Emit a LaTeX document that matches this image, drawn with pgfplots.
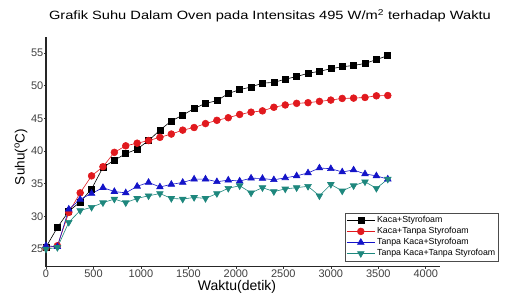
\documentclass[border=0pt]{standalone}
\usepackage{pgfplots}
\pgfplotsset{compat=1.18}
\usepackage{pgfplotstable}
\usepackage{fontspec}
\setmainfont{Liberation Sans}
\newfontfamily\titlefont[FakeStretch=1.22]{Liberation Sans}
\definecolor{cred}{RGB}{225,25,30}
\definecolor{cblue}{RGB}{20,20,200}
\definecolor{cteal}{RGB}{30,135,125}
\pgfplotstableread{
t    a     b     c     d
0    25.3  25.2  25.5  25.0
120  28.3  25.5  25.35 25.25
240  30.8  30.6  31.1  29.1
360  32.2  33.6  32.6  30.9
480  34.2  36.2  33.5  31.4
600  37.5  37.6  34.4  32.1
720  38.6  39.8  33.8  32.65
840  39.6  40.8  33.6  32.1
960  40.3  41.2  34.6  32.75
1080 41.6  41.6  35.2  33.15
1200 43.2  42.1  34.5  33.5
1320 44.6  42.6  34.9  32.75
1440 45.5  43.2  35.2  32.65
1560 46.5  43.6  35.7  32.9
1680 47.3  44.2  35.7  32.75
1800 47.7  44.7  35.3  33.5
1920 48.8  45.1  35.55 34.3
2040 49.4  45.6  35.4  34.7
2160 49.8  45.95 35.85 33.6
2280 50.4  46.15 35.8  34.4
2400 50.5  46.7  35.6  33.8
2520 51.0  47.05 35.9  34.2
2640 51.4  47.3  36.2  34.4
2760 51.9  47.4  36.65 34.6
2880 52.2  47.6  37.4  33.15
3000 52.6  47.8  37.3  34.9
3120 52.9  48.05 36.8  33.9
3240 53.1  48.1  37.1  34.7
3360 53.4  48.2  36.5  35.3
3480 54.0  48.45 36.2  34.3
3600 54.6  48.5  35.7  35.7
}\data
\begin{document}
\begin{tikzpicture}
\useasboundingbox (-46bp,-26.3bp) rectangle (461bp,266.7bp);
\begin{axis}[
  at={(0,0)}, anchor=south west,
  scale only axis, width=394bp, height=230bp,
  xmin=0, xmax=4150, ymin=22.3, ymax=57.5,
  axis x line*=bottom, axis y line*=left,
  axis line style={-, line width=1.1bp, black!85},
  xtick={0,500,...,4000}, ytick={25,30,...,55},
  tick align=outside, major tick length=2bp,
  tick style={black!80, line width=0.6bp},
  /pgf/number format/assume math mode=true,
  /pgf/number format/set thousands separator={},
  ticklabel style={font=\fontsize{11bp}{13bp}\selectfont, text=black!75},
  xticklabel style={inner sep=1bp},
  yticklabel style={inner sep=0.5bp},
  every axis title shift=0pt,
  title={Grafik Suhu Dalam Oven pada Intensitas 495 W/m\textsuperscript{2} terhadap Waktu},
  title style={at={(0.5685,1.0913)}, anchor=center, font=\titlefont\fontsize{12bp}{14bp}\selectfont, inner sep=0pt},
  xlabel={Waktu(detik)},
  xlabel style={at={(axis description cs:0.4848,-0.087)}, anchor=center, font=\fontsize{14bp}{16bp}\selectfont, inner sep=0pt},
  ylabel={Suhu(\textsuperscript{o}C)},
  ylabel style={at={(axis description cs:-0.0635,0.477)}, anchor=center, font=\fontsize{13.5bp}{16bp}\selectfont, inner sep=0pt},
  legend style={at={(1.1497,0.2348)}, anchor=north east, font=\fontsize{8.8bp}{10bp}\selectfont,
    draw=black!70, line width=0.5bp, inner sep=1.5bp, row sep=-0.8bp, fill=white},
  legend cell align=left,
  legend image code/.code={\draw[mark repeat=2,mark phase=2] plot coordinates {(0bp,0bp) (14bp,0bp) (28bp,0bp)};},
]
\addplot[black, line width=0.6bp, mark=square*, mark size=3bp, mark options={solid, fill=black}] table[x=t,y=a]{\data};
\addlegendentry{Kaca+Styrofoam}
\addplot[cred, line width=0.6bp, mark=*, mark size=3.4bp, mark options={solid, fill=cred, draw=cred}] table[x=t,y=b]{\data};
\addlegendentry{Kaca+Tanpa Styrofoam}
\addplot[cblue, line width=0.6bp, mark=triangle*, mark size=3.8bp, mark options={solid, fill=cblue, draw=cblue}] table[x=t,y=c]{\data};
\addlegendentry{Tanpa Kaca+Styrofoam}
\addplot[cteal, line width=0.6bp, mark=triangle*, mark size=3.8bp, mark options={solid, rotate=180, fill=cteal, draw=cteal}] table[x=t,y=d]{\data};
\addlegendentry{Tanpa Kaca+Tanpa Styrofoam}
\end{axis}
\end{tikzpicture}
\end{document}
